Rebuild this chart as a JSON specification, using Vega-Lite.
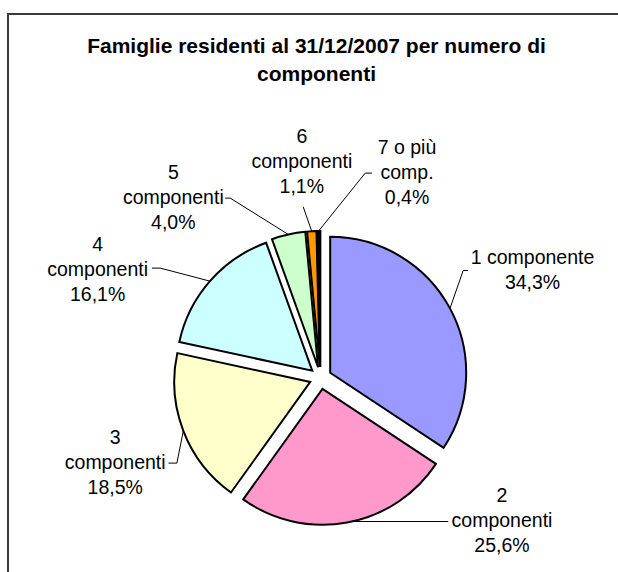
{
  "$schema": "https://vega.github.io/schema/vega-lite/v6.json",
  "width": 625,
  "height": 728,
  "padding": {"left": 8, "top": 14, "right": 0, "bottom": 0},
  "autosize": {"type": "none"},
  "background": "white",
  "title": {
    "text": ["Famiglie residenti al 31/12/2007 per numero di", "componenti"],
    "offset": -71,
    "anchor": "middle",
    "frame": "group",
    "dx": -4,
    "font": "Liberation Sans",
    "fontSize": 21,
    "fontWeight": "bold",
    "lineHeight": 28,
    "color": "#000000"
  },
  "data": {
    "values": [
      {"k": 1, "name": "1 componente", "pct": 34.3, "label": "1 componente\n34,3%"},
      {"k": 2, "name": "2 componenti", "pct": 25.6, "label": "2\ncomponenti\n25,6%"},
      {"k": 3, "name": "3 componenti", "pct": 18.5, "label": "3\ncomponenti\n18,5%"},
      {"k": 4, "name": "4 componenti", "pct": 16.1, "label": "4\ncomponenti\n16,1%"},
      {"k": 5, "name": "5 componenti", "pct": 4.0, "label": "5\ncomponenti\n4,0%"},
      {"k": 6, "name": "6 componenti", "pct": 1.1, "label": "6\ncomponenti\n1,1%"},
      {"k": 7, "name": "7 o più comp.", "pct": 0.4, "label": "7 o più\ncomp.\n0,4%"}
    ]
  },
  "transform": [
    {"stack": "pct", "groupby": [], "sort": [{"field": "k", "order": "ascending"}], "as": ["pct_start", "pct_end"]}
  ],
  "layer": [
    {
      "mark": {"type": "arc", "outerRadius": 136, "stroke": "#000000", "strokeWidth": 2, "strokeJoin": "miter"},
      "encoding": {
        "theta": {"field": "pct_start", "type": "quantitative", "scale": {"domain": [0, 100]}},
        "theta2": {"field": "pct_end"},
        "x": {"value": {"expr": "width/2 + 11*sin(PI*(datum.pct_start+datum.pct_end)/100)"}},
        "y": {"value": {"expr": "height/2 - 11*cos(PI*(datum.pct_start+datum.pct_end)/100)"}},
        "color": {
          "field": "name",
          "type": "nominal",
          "scale": {
            "domain": ["1 componente", "2 componenti", "3 componenti", "4 componenti", "5 componenti", "6 componenti", "7 o più comp."],
            "range": ["#9999FF", "#FF99CC", "#FFFFCC", "#CCFFFF", "#CCFFCC", "#FF9900", "#000000"]
          },
          "legend": null
        }
      }
    },
    {
      "mark": {"type": "rule", "color": "#000000", "strokeWidth": 1},
      "encoding": {
        "x": {"value": {"expr": "width/2 + 147*sin(PI*(datum.pct_start+datum.pct_end)/100)"}},
        "y": {"value": {"expr": "height/2 - 147*cos(PI*(datum.pct_start+datum.pct_end)/100)"}},
        "x2": {"value": {"expr": "width/2 + [142.7, 29.7, -143.6, -160.3, -90.3, -17.3, 44.7][datum.k-1]"}},
        "y2": {"value": {"expr": "height/2 + [-107.5, 143.5, 85.1, -109.9, -179.9, -171.2, -204.9][datum.k-1]"}}
      }
    },
    {
      "mark": {"type": "rule", "color": "#000000", "strokeWidth": 1},
      "encoding": {
        "x": {"value": {"expr": "width/2 + [142.7, 29.7, -143.6, -160.3, -90.3, -17.3, 44.7][datum.k-1]"}},
        "y": {"value": {"expr": "height/2 + [-107.5, 143.5, 85.1, -109.9, -179.9, -171.2, -204.9][datum.k-1]"}},
        "x2": {"value": {"expr": "width/2 + [147.7, 127.7, -152, -168.6, -95.3, -17.3, 51.4][datum.k-1]"}},
        "y2": {"value": {"expr": "height/2 + [-107.5, 143.5, 85.1, -109.9, -179.9, -171.2, -204.9][datum.k-1]"}}
      }
    },
    {
      "mark": {"type": "text", "font": "Liberation Sans", "fontSize": 19.5, "lineHeight": 25, "lineBreak": "\n", "align": "center", "baseline": "middle", "color": "#000000"},
      "encoding": {
        "text": {"field": "label", "type": "nominal"},
        "theta": {"value": {"expr": "[1.056, 2.149, 4.428, 5.252, 5.660, 6.206, 0.360][datum.k-1]"}},
        "radius": {"value": {"expr": "[243.6, 216.7, 213.9, 259.8, 252.2, 242.2, 245.6][datum.k-1]"}}
      }
    }
  ],
  "config": {
    "view": {"stroke": "#3a3a3a", "strokeWidth": 2}
  }
}
